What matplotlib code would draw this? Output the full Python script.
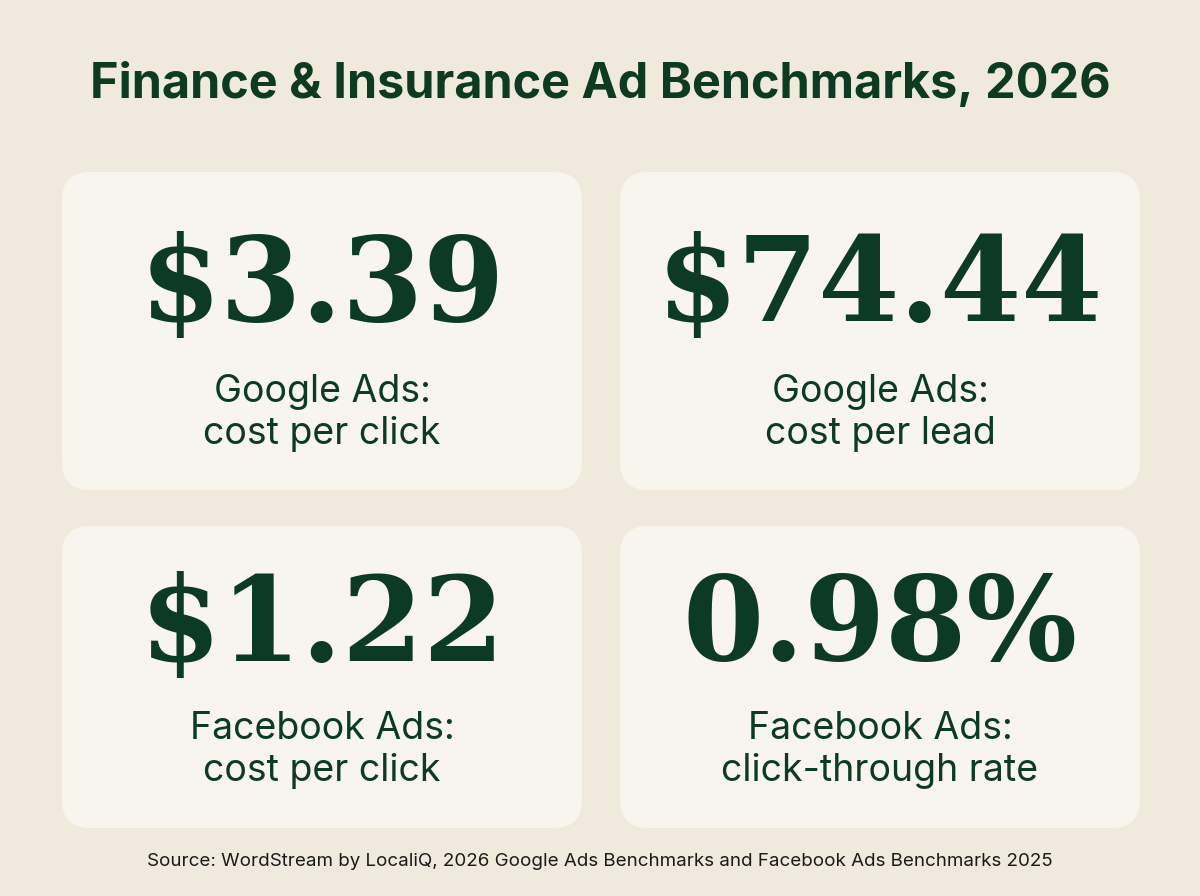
import matplotlib
matplotlib.use("Agg")
import matplotlib.pyplot as plt
from matplotlib.patches import FancyBboxPatch

title = "Finance & Insurance Ad Benchmarks, 2026"
values = ["$3.39", "$74.44", "$1.22", "0.98%"]
labels = ["Google Ads:\ncost per click", "Google Ads:\ncost per lead",
          "Facebook Ads:\ncost per click", "Facebook Ads:\nclick-through rate"]
source = "Source: WordStream by LocaliQ, 2026 Google Ads Benchmarks and Facebook Ads Benchmarks 2025"

BG = "#EFEADC"; CARD = "#F8F5EE"; GREEN = "#0C3B22"
fig = plt.figure(figsize=(12, 8.96), dpi=100, facecolor=BG)
ax = fig.add_axes([0, 0, 1, 1]); ax.set_xlim(0, 1200); ax.set_ylim(896, 0); ax.axis("off")

ax.text(600, 85, title, ha="center", va="center", fontsize=35, fontweight="bold",
        color=GREEN, family="Inter")
boxes = [(62, 172, 520, 318), (620, 172, 520, 318), (62, 526, 520, 302), (620, 526, 520, 302)]
offs = [(116, 241), (116, 241), (102, 224), (102, 224)]
for (x, y, w, h), (on, ol), v, l in zip(boxes, offs, values, labels):
    ax.add_patch(FancyBboxPatch((x + 28, y + 28), w - 56, h - 56,
                                boxstyle="round,pad=28", fc=CARD, ec="none"))
    cx = x + w / 2
    ax.text(cx, y + on, v, ha="center", va="center", fontsize=84, fontweight="bold",
            color=GREEN, family="DejaVu Serif")
    ax.text(cx, y + ol, l, ha="center", va="center", fontsize=27,
            color=GREEN, family="Inter", linespacing=1.2)
ax.text(600, 862, source, ha="center", va="center", fontsize=13.5, color="#1a1a1a", family="Inter")
fig.savefig("out.png", dpi=100, facecolor=BG)
